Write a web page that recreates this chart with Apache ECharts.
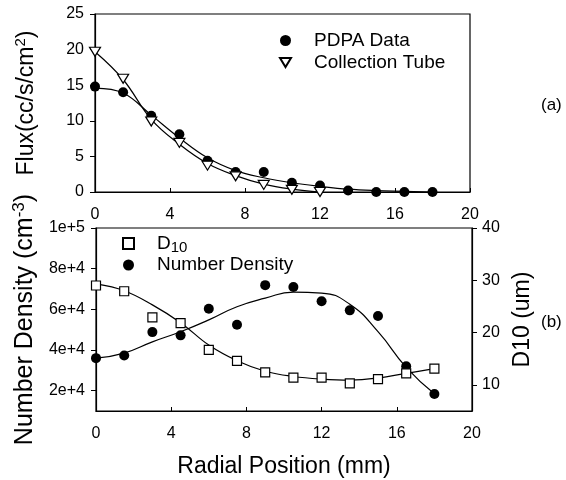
<!DOCTYPE html>
<html>
<head>
<meta charset="utf-8">
<script src="https://cdn.jsdelivr.net/npm/echarts@6/dist/echarts.min.js"></script>
<style>
  html, body { margin: 0; padding: 0; background: #fff; }
  #chart { width: 566px; height: 480px; }
</style>
</head>
<body>
<div id="chart"></div>
<script>
// radial positions (mm)
const radial       = [0, 1.5, 3, 4.5, 6, 7.5, 9, 10.5, 12, 13.5, 15, 16.5, 18];

// (a) flux
const pdpaFlux     = [14.8, 14.0, 10.7, 8.1, 4.4, 2.8, 2.8, 1.3, 0.9, 0.2, 0.0, 0.0, 0.0];
const pdpaFit      = [14.6, 13.9, 10.8, 7.6, 4.8, 3.0, 2.0, 1.3, 0.8, 0.4, 0.2, 0.1, 0.0];
const tubeX        = [0, 1.5, 3, 4.5, 6, 7.5, 9, 10.5, 12];
const tubeFlux     = [19.7, 15.9, 9.9, 6.9, 3.7, 2.2, 1.0, 0.3, 0.0];
const tubeFit      = [19.7, 15.8, 10.2, 6.7, 4.0, 2.3, 1.1, 0.4, 0.0];

// (b) number density + D10
const numDensity   = [3.6e4, 3.73e4, 4.88e4, 4.72e4, 6.03e4, 5.24e4, 7.19e4, 7.1e4, 6.4e4, 5.95e4, 5.67e4, 3.2e4, 1.84e4];
const ndFit        = [3.6e4, 3.85e4, 4.4e4, 4.9e4, 5.48e4, 6.13e4, 6.55e4, 6.85e4, 6.8e4, 6.25e4, 4.9e4, 3.15e4, 1.85e4];
const d10          = [29.0, 27.9, 22.9, 21.8, 16.7, 14.6, 12.4, 11.4, 11.4, 10.3, 11.1, 12.2, 13.1];
const d10Fit       = [29.3, 28.0, 25.3, 21.9, 17.6, 14.6, 12.6, 11.6, 11.1, 10.9, 11.3, 12.2, 13.1];

// tick labels
const ndTicks      = [2e4, 4e4, 6e4, 8e4, 1e5];
const ndTickLabels = ['2e+4', '4e+4', '6e+4', '8e+4', '1e+5'];
const d10Ticks     = [10, 20, 30, 40];

const FONT = 'Liberation Sans';

function pairs(xs, ys) { return xs.map((x, i) => [x, ys[i]]); }

document.addEventListener('DOMContentLoaded', () => {

    const chart = echarts.init(document.getElementById('chart'));

    const lbl   = { color: '#000', fontFamily: FONT, fontSize: 16 };
    function titleStyle(size) {
        return { color: '#000', fontFamily: FONT, fontSize: size,
                 rich: {
                     n:   { fontFamily: FONT, fontSize: size, color: '#000' },
                     sup: { fontFamily: FONT, fontSize: size - 8, color: '#000', verticalAlign: 'top', padding: [0, 0, 12, 0] }
                 } };
    }
    const blackLine = { lineStyle: { color: '#000', width: 1.2 } };
    const legendText = { color: '#000', fontFamily: FONT, fontSize: 19, padding: [0, 0, 0, 18],
                         rich: { n:   { fontFamily: FONT, fontSize: 19, color: '#000' },
                                 sub: { fontFamily: FONT, fontSize: 15, color: '#000', padding: [9, 0, 0, 0] } } };

    const option = {
        animation: false,
        grid: [
            { left: 95, top: 14, width: 375, height: 178, show: true, borderColor: '#000', borderWidth: 1.2 },
            { left: 96, top: 228, width: 376, height: 183, show: true, borderColor: '#000', borderWidth: 1.2 }
        ],
        xAxis: [
            { gridIndex: 0, type: 'value', min: 0, max: 20, interval: 4,
              axisLine: blackLine, axisTick: { inside: true, length: 4, lineStyle: { color: '#000' } },
              axisLabel: Object.assign({ margin: 15 }, lbl), splitLine: { show: false } },
            { gridIndex: 1, type: 'value', min: 0, max: 20, interval: 4,
              axisLine: blackLine, axisTick: { inside: true, length: 4, lineStyle: { color: '#000' } },
              axisLabel: Object.assign({ margin: 15 }, lbl), splitLine: { show: false },
              name: 'Radial Position (mm)', nameLocation: 'middle', nameGap: 44, nameTextStyle: titleStyle(23) }
        ],
        yAxis: [
            { gridIndex: 0, type: 'value', min: 0, max: 25, interval: 5,
              axisLine: { show: true, lineStyle: { color: '#000', width: 1.2 } },
              axisTick: { show: true, length: 5, lineStyle: { color: '#000' } },
              axisLabel: Object.assign({ margin: 11 }, lbl), splitLine: { show: false },
              name: '{n|Flux(cc/s/cm}{sup|2}{n|)}', nameLocation: 'middle', nameRotate: 90, nameGap: 55, nameTextStyle: titleStyle(23) },
            { gridIndex: 1, type: 'value', min: 1e4, max: 1e5,
              axisLine: { show: true, lineStyle: { color: '#000', width: 1.2 } },
              axisTick: { show: true, length: 5, customValues: ndTicks, lineStyle: { color: '#000' } },
              axisLabel: Object.assign({ margin: 11, customValues: ndTicks,
                  formatter: v => ndTickLabels[ndTicks.indexOf(v)] || '' }, lbl),
              splitLine: { show: false },
              name: '{n|Number Density (cm}{sup|-3}{n|)}', nameLocation: 'middle', nameRotate: 90, nameGap: 56, nameTextStyle: titleStyle(25) },
            { gridIndex: 1, type: 'value', position: 'right', min: 5, max: 40,
              axisLine: { show: true, lineStyle: { color: '#000', width: 1.2 } },
              axisTick: { show: true, length: 5, customValues: d10Ticks, lineStyle: { color: '#000' } },
              axisLabel: Object.assign({ margin: 10, customValues: d10Ticks }, lbl),
              splitLine: { show: false },
              name: 'D10 (um)', nameLocation: 'middle', nameRotate: 90, nameGap: 34, nameTextStyle: titleStyle(23) }
        ],
        legend: [
            { orient: 'vertical', left: 274, top: 26, itemWidth: 11, itemHeight: 11, itemGap: 3,
              data: ['PDPA Data', 'Collection Tube'], textStyle: legendText },
            { orient: 'vertical', left: 117, top: 229, itemWidth: 11, itemHeight: 11, itemGap: 0,
              data: ['D10', 'Number Density'],
              formatter: n => n === 'D10' ? '{n|D}{sub|10}' : '{n|Number Density}',
              textStyle: legendText }
        ],
        graphic: [
            { type: 'text', left: 541, top: 97, style: { text: '(a)', font: '17px ' + FONT, fill: '#000' } },
            { type: 'text', left: 541, top: 314, style: { text: '(b)', font: '17px ' + FONT, fill: '#000' } }
        ],
        series: [
            // (a)
            { name: 'pdpaFit', type: 'line', xAxisIndex: 0, yAxisIndex: 0, smooth: 0.4, symbol: 'none',
              lineStyle: { color: '#000', width: 1.2 }, data: pairs(radial, pdpaFit), z: 2 },
            { name: 'tubeFit', type: 'line', xAxisIndex: 0, yAxisIndex: 0, smooth: 0.4, symbol: 'none',
              lineStyle: { color: '#000', width: 1.2 }, data: pairs(tubeX, tubeFit), z: 2 },
            { name: 'PDPA Data', type: 'scatter', xAxisIndex: 0, yAxisIndex: 0, symbol: 'circle', symbolSize: 10,
              itemStyle: { color: '#000', opacity: 1 }, data: pairs(radial, pdpaFlux), z: 3 },
            { name: 'Collection Tube', type: 'scatter', xAxisIndex: 0, yAxisIndex: 0,
              symbol: 'path://M0,0 L12,0 L6,10 Z', symbolSize: [11, 9],
              itemStyle: { color: '#fff', borderColor: '#000', borderWidth: 1.2, opacity: 1 }, data: pairs(tubeX, tubeFlux), z: 4 },
            // (b)
            { name: 'ndFit', type: 'line', xAxisIndex: 1, yAxisIndex: 1, smooth: 0.5, symbol: 'none',
              lineStyle: { color: '#000', width: 1.2 }, data: pairs(radial, ndFit), z: 2 },
            { name: 'd10Fit', type: 'line', xAxisIndex: 1, yAxisIndex: 2, smooth: 0.4, symbol: 'none',
              lineStyle: { color: '#000', width: 1.2 }, data: pairs(radial, d10Fit), z: 2 },
            { name: 'Number Density', type: 'scatter', xAxisIndex: 1, yAxisIndex: 1, symbol: 'circle', symbolSize: 10,
              itemStyle: { color: '#000', opacity: 1 }, data: pairs(radial, numDensity), z: 3 },
            { name: 'D10', type: 'scatter', xAxisIndex: 1, yAxisIndex: 2, symbol: 'rect', symbolSize: 9,
              itemStyle: { color: '#fff', borderColor: '#000', borderWidth: 1.2, opacity: 1 }, data: pairs(radial, d10), z: 4 }
        ]
    };

    chart.setOption(option);
});
</script>
</body>
</html>
